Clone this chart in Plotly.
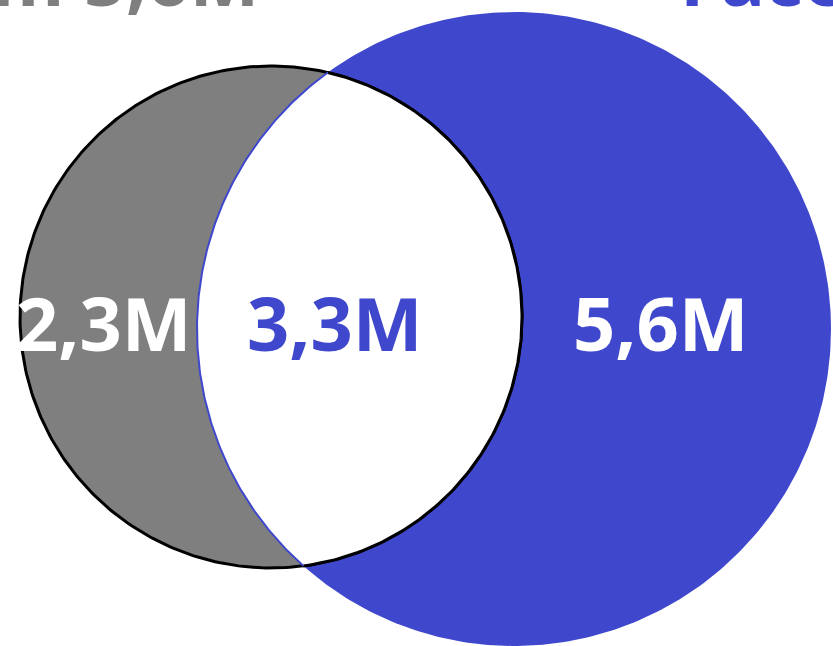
import numpy as np
import plotly.graph_objects as go

# ---- data ----
set_names = ["Instagram", "Facebook"]
only_values = [2.3, 5.6]      # left only, right only (millions)
both_value = 3.3              # intersection (millions)
unit = "M"

def fmt(v):
    return f"{v:.1f}".replace(".", ",") + unit

totals = [only_values[0] + both_value, only_values[1] + both_value]

# ---- geometry (pixel-like units) ----
W, H = 833, 646
c1 = np.array([271.0, 317.0]); r1 = 251.0
c2 = np.array([514.0, 329.0]); r2 = 317.0

GRAY = "#7f7f7f"
BLUE = "#3f48cc"

def circle(c, r, n=400):
    t = np.linspace(0, 2 * np.pi, n)
    return c[0] + r * np.cos(t), c[1] + r * np.sin(t)

# intersections
d_vec = c2 - c1
d = np.linalg.norm(d_vec)
u = d_vec / d
a = (r1**2 - r2**2 + d**2) / (2 * d)
h = np.sqrt(r1**2 - a**2)
p = c1 + a * u
perp = np.array([-u[1], u[0]])
pA = p + h * perp
pB = p - h * perp
top, bot = (pA, pB) if pA[1] < pB[1] else (pB, pA)

def ang(c, pt):
    return np.arctan2(pt[1] - c[1], pt[0] - c[0])

t1a, t1b = ang(c1, top), ang(c1, bot)
arc1_t = np.linspace(t1a, t1b, 200)
arc1x = c1[0] + r1 * np.cos(arc1_t); arc1y = c1[1] + r1 * np.sin(arc1_t)
t2a, t2b = ang(c2, bot), ang(c2, top)
if t2b < t2a:
    t2b += 2 * np.pi
arc2_t = np.linspace(t2a, t2b, 200)
arc2x = c2[0] + r2 * np.cos(arc2_t); arc2y = c2[1] + r2 * np.sin(arc2_t)

fig = go.Figure()

x, y = circle(c2, r2)
fig.add_trace(go.Scatter(x=x, y=y, mode="lines", fill="toself", fillcolor=BLUE,
                         line=dict(width=0, color=BLUE), hoverinfo="skip"))
x, y = circle(c1, r1)
fig.add_trace(go.Scatter(x=x, y=y, mode="lines", fill="toself", fillcolor=GRAY,
                         line=dict(width=3, color="black"), hoverinfo="skip"))
lx = np.concatenate([arc1x, arc2x]); ly = np.concatenate([arc1y, arc2y])
fig.add_trace(go.Scatter(x=lx, y=ly, mode="lines", fill="toself", fillcolor="white",
                         line=dict(width=0, color="white"), hoverinfo="skip"))
fig.add_trace(go.Scatter(x=arc1x, y=arc1y, mode="lines",
                         line=dict(width=3, color="black"), hoverinfo="skip"))
fig.add_trace(go.Scatter(x=arc2x, y=arc2y, mode="lines",
                         line=dict(width=2, color=BLUE), hoverinfo="skip"))

font = dict(family="Open Sans", size=74, weight=700)
labels = [
    (104, 322, fmt(only_values[0]), "white"),
    (335, 322, fmt(both_value), BLUE),
    (661, 322, fmt(only_values[1]), "white"),
]
for lxp, lyp, txt, col in labels:
    fig.add_annotation(x=lxp, y=lyp, xref="x", yref="y", text=txt, showarrow=False,
                       xanchor="center", yanchor="middle",
                       font=dict(**font, color=col))

def py(pix):
    return 1 - pix / H

fig.add_annotation(x=261 / W, y=py(-23), xref="paper", yref="paper",
                   text=f"{set_names[0]} {fmt(totals[0])}", showarrow=False,
                   xanchor="right", yanchor="middle", font=dict(**font, color=GRAY))
fig.add_annotation(x=678 / W, y=py(-23), xref="paper", yref="paper",
                   text=f"{set_names[1]} {fmt(totals[1])}", showarrow=False,
                   xanchor="left", yanchor="middle", font=dict(**font, color=BLUE))

fig.update_layout(
    width=W, height=H, margin=dict(l=0, r=0, t=0, b=0),
    paper_bgcolor="white", plot_bgcolor="white", showlegend=False,
    xaxis=dict(range=[0, W], visible=False, fixedrange=True),
    yaxis=dict(range=[H, 0], visible=False, fixedrange=True),
)
fig.write_html("out.html", config={"displayModeBar": False},
               post_script="document.body.style.margin='0';document.body.style.overflow='hidden';")
